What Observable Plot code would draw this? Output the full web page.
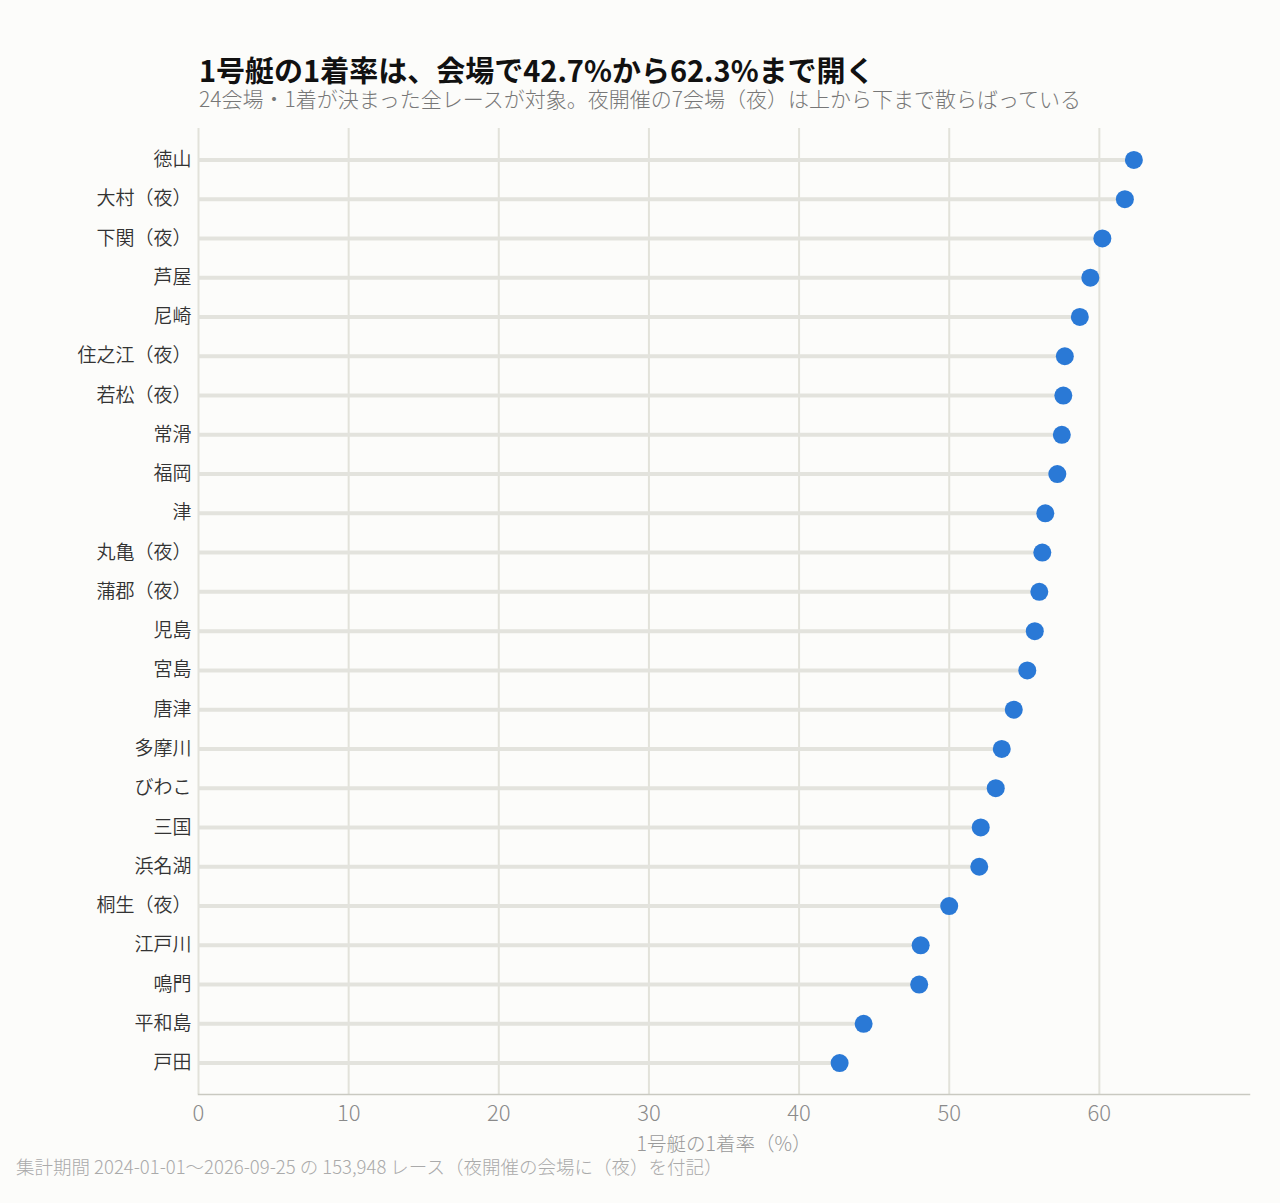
<!DOCTYPE html>
<html><head><meta charset="utf-8">
<script src="https://cdn.jsdelivr.net/npm/d3@7"></script>
<script src="https://cdn.jsdelivr.net/npm/@observablehq/plot@0.6"></script>
<style>
html,body{margin:0;padding:0;background:#fcfcfa;}
*{text-spacing-trim:space-all;text-autospace:no-autospace;}
body{font-family:"Noto Sans CJK JP","Noto Sans",sans-serif;}
#wrap{position:relative;width:1280px;height:1203px;overflow:hidden;}
#title{position:absolute;left:199px;top:55px;font-size:29px;font-weight:700;color:#111;white-space:nowrap;line-height:1;}
#subtitle{position:absolute;left:199px;top:88px;font-size:21px;font-weight:300;color:#777;white-space:nowrap;line-height:1;}
#chart{position:absolute;left:0;top:118px;}
#caption{position:absolute;left:16px;top:1157px;font-size:18.5px;font-weight:300;color:#aaa;white-space:nowrap;line-height:1;}
</style></head>
<body><div id="wrap">
<div id="title">1号艇の1着率は、会場で42.7%から62.3%まで開く</div>
<div id="subtitle">24会場・1着が決まった全レースが対象。夜開催の7会場（夜）は上から下まで散らばっている</div>
<div id="chart"></div>
<div id="caption">集計期間 2024-01-01～2026-09-25 の 153,948 レース（夜開催の会場に（夜）を付記）</div>
</div>
<script>
const venues = ["徳山","大村（夜）","下関（夜）","芦屋","尼崎","住之江（夜）","若松（夜）","常滑","福岡","津","丸亀（夜）","蒲郡（夜）","児島","宮島","唐津","多摩川","びわこ","三国","浜名湖","桐生（夜）","江戸川","鳴門","平和島","戸田"];
const rates = [62.3,61.7,60.2,59.4,58.7,57.7,57.6,57.5,57.2,56.4,56.2,56.0,55.7,55.2,54.3,53.5,53.1,52.1,52.0,50.0,48.1,48.0,44.3,42.7];
const xTicks = [0,10,20,30,40,50,60];
const xDomain = [0,70];
const xLabel = "1号艇の1着率（%）";

const data = venues.map((v,i)=>({venue:v, rate:rates[i]}));

const chart = Plot.plot({
  width:1280, height:1046,
  marginLeft:198, marginRight:31, marginTop:10, marginBottom:70,
  style:{background:"transparent", fontFamily:"'Noto Sans CJK JP', sans-serif"},
  x:{domain:xDomain},
  y:{type:"point", domain:venues, padding:0.8, round:false},
  marks:[
    Plot.gridX(xTicks, {stroke:"#e2e2da", strokeOpacity:1, strokeWidth:2}),
    Plot.frame({anchor:"bottom", stroke:"#c9c9c1", strokeWidth:1.5}),
    Plot.ruleY(data, {y:"venue", x1:0, x2:"rate", stroke:"#e3e3dd", strokeWidth:4}),
    Plot.dot(data, {y:"venue", x:"rate", r:9, fill:"#2a79d6", stroke:"none"}),
    Plot.axisX(xTicks, {tickSize:0, tickPadding:11, fontSize:22, fontWeight:300, fill:"#8a8a8a",
      label:xLabel, labelAnchor:"center", labelArrow:"none", labelOffset:56}),
    Plot.axisY({tickSize:0, tickPadding:7, fontSize:19, fontWeight:350, fill:"#333", label:null})
  ]
});
document.getElementById("chart").appendChild(chart);
d3.select(chart).selectAll('[aria-label="x-axis label"] text').attr("font-size",19.5).attr("fill","#999");
</script>
</body></html>
